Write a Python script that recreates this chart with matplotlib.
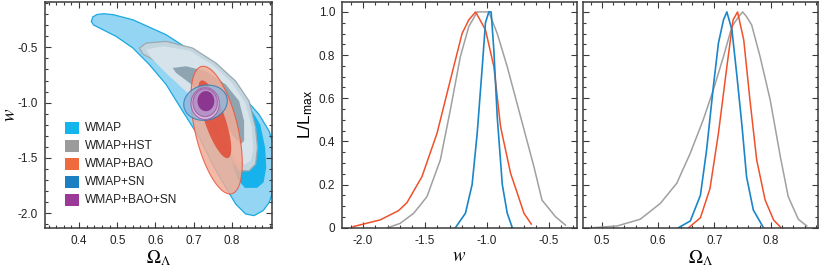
import numpy as np
import matplotlib
matplotlib.use("Agg")
import matplotlib.pyplot as plt
from matplotlib.ticker import MultipleLocator, FixedLocator, FuncFormatter
from matplotlib.patches import Polygon, Rectangle

plt.rcParams['font.family'] = ['Liberation Sans', 'DejaVu Sans']
plt.rcParams['mathtext.fontset'] = 'stix'

# ---------------- data: panel 1 contours (Omega_Lambda, w) ----------------
wmap95_om = [0.432, 0.436, 0.447, 0.465, 0.49, 0.541, 0.628, 0.715, 0.802, 0.871, 0.898, 0.91, 0.91,
             0.898, 0.882, 0.858, 0.836, 0.81, 0.784, 0.749, 0.715, 0.671, 0.628, 0.584, 0.541,
             0.497, 0.454, 0.438]
wmap95_w = [-0.266, -0.225, -0.203, -0.196, -0.205, -0.251, -0.386, -0.581, -0.836, -1.106, -1.26,
            -1.40, -1.77, -1.90, -1.975, -2.021, -2.006, -1.916, -1.766, -1.556, -1.316, -1.076,
            -0.836, -0.656, -0.506, -0.401, -0.326, -0.298]
wmap68_om = [0.84, 0.874, 0.887, 0.89, 0.883, 0.866, 0.834, 0.817, 0.805, 0.80, 0.80]
wmap68_w = [-1.0, -1.196, -1.406, -1.586, -1.72, -1.77, -1.77, -1.70, -1.60, -1.45, -1.2]
hst95_om = [0.558, 0.576, 0.628, 0.697, 0.758, 0.81, 0.845, 0.862, 0.867, 0.862, 0.845, 0.819,
            0.802, 0.775, 0.741, 0.697, 0.654, 0.602, 0.567]
hst95_w = [-0.506, -0.461, -0.446, -0.506, -0.641, -0.806, -0.986, -1.226, -1.406, -1.556, -1.616, -1.616,
           -1.526, -1.346, -1.136, -0.926, -0.761, -0.626, -0.56]
hstcore_om = [0.575, 0.62, 0.69, 0.75, 0.80, 0.835, 0.852, 0.856, 0.85, 0.835, 0.815, 0.79, 0.76,
              0.72, 0.68, 0.63, 0.59]
hstcore_w = [-0.52, -0.49, -0.53, -0.66, -0.82, -1.0, -1.22, -1.42, -1.52, -1.56, -1.53, -1.40, -1.23,
             -1.05, -0.90, -0.74, -0.60]
hst68_om = [0.645, 0.68, 0.732, 0.784, 0.819, 0.832, 0.832, 0.823, 0.80, 0.775, 0.732, 0.689, 0.654]
hst68_w = [-0.686, -0.671, -0.716, -0.836, -0.986, -1.166, -1.346, -1.376, -1.286, -1.136, -0.956,
           -0.821, -0.731]

# ellipses: center om, center w, semi-major, semi-minor (units: 0.1 in om, 0.35 in w), angle (deg)
ell_names = ['bao95', 'bao68', 'sn95', 'all95', 'sn68', 'all68']
ell_om = [0.760, 0.755, 0.731, 0.730, 0.730, 0.732]
ell_w = [-1.248, -1.15, -1.0, -1.008, -1.0, -0.986]
ell_a = [1.69, 1.06, 0.575, 0.37, 0.32, 0.22]
ell_b = [0.56, 0.27, 0.45, 0.41, 0.36, 0.26]
ell_ang = [-76.5, -70.7, 12.0, 0.0, 0.0, 0.0]

legend_labels = ['WMAP', 'WMAP+HST', 'WMAP+BAO', 'WMAP+SN', 'WMAP+BAO+SN']
legend_colors = ['#14b4ec', '#9b9b9b', '#ef6a3c', '#1a80c2', '#9a3a96']

# ---------------- data: panel 2, marginal in w ----------------
w_red_x = [-2.08, -1.862, -1.713, -1.645, -1.524, -1.402, -1.267, -1.199, -1.145, -1.09,
           -1.01, -0.942, -0.888, -0.807, -0.752, -0.699, -0.64]
w_red_y = [0.005, 0.036, 0.079, 0.116, 0.236, 0.437, 0.746, 0.90, 0.963, 1.0,
           0.917, 0.746, 0.468, 0.252, 0.159, 0.067, 0.017]
w_gray_x = [-1.80, -1.70, -1.59, -1.483, -1.375, -1.294, -1.213, -1.145, -1.077, -0.983,
            -0.915, -0.834, -0.726, -0.618, -0.553, -0.444, -0.363]
w_gray_y = [0.0, 0.02, 0.067, 0.144, 0.314, 0.546, 0.793, 0.932, 1.0, 1.0,
            0.90, 0.746, 0.514, 0.282, 0.128, 0.051, 0.012]
w_blue_x = [-1.253, -1.172, -1.118, -1.077, -1.036, -1.01, -0.983, -0.964, -0.942, -0.915,
            -0.874, -0.834, -0.793]
w_blue_y = [0.0, 0.067, 0.20, 0.437, 0.746, 0.95, 1.0, 1.0, 0.82, 0.514, 0.20, 0.067, 0.0]

# ---------------- data: panel 3, marginal in Omega_Lambda ----------------
o_gray_x = [0.485, 0.527, 0.568, 0.604, 0.633, 0.657, 0.680, 0.698, 0.716, 0.731, 0.743, 0.75,
            0.757, 0.766, 0.781, 0.799, 0.817, 0.831, 0.849, 0.864]
o_gray_y = [0.0, 0.008, 0.039, 0.113, 0.206, 0.345, 0.5, 0.639, 0.793, 0.932, 0.978, 1.0,
            0.978, 0.94, 0.793, 0.592, 0.329, 0.144, 0.039, 0.008]
o_blue_x = [0.636, 0.657, 0.675, 0.686, 0.698, 0.707, 0.716, 0.722, 0.731, 0.740, 0.749, 0.757,
            0.769, 0.787]
o_blue_y = [0.0, 0.031, 0.15, 0.36, 0.654, 0.855, 0.963, 1.0, 0.917, 0.7, 0.468, 0.236, 0.082, 0.0]
o_red_x = [0.654, 0.675, 0.692, 0.707, 0.722, 0.733, 0.741, 0.752, 0.763, 0.775, 0.79, 0.805, 0.817]
o_red_y = [0.0, 0.046, 0.181, 0.437, 0.746, 0.963, 1.0, 0.87, 0.592, 0.314, 0.128, 0.036, 0.003]

# ---------------- figure ----------------
W, H = 819, 268
fig = plt.figure(figsize=(W / 100, H / 100), dpi=100)

def ax_at(x0, x1, y0, y1):
    return fig.add_axes([x0 / W, 1 - y1 / H, (x1 - x0) / W, (y1 - y0) / H])

ax1 = ax_at(44.7, 272.0, 2.0, 227.7)
ax2 = ax_at(342.0, 577.0, 2.0, 227.7)
ax3 = ax_at(583.3, 817.5, 2.0, 227.7)

spine_col = '#3a3a3a'
for ax in (ax1, ax2, ax3):
    for s in ax.spines.values():
        s.set_color(spine_col)
        s.set_linewidth(1.1)
    ax.tick_params(which='both', direction='in', top=True, right=True, color=spine_col,
                   labelsize=8.5, labelcolor='#222222', width=0.8)
    ax.tick_params(which='major', length=4, pad=5)
    ax.tick_params(which='minor', length=2)

# panel 1
ax1.set_xlim(0.31, 0.905)
ax1.set_ylim(-2.13, -0.09)

def ell_pts(cx, cy, a, b, ang, n=120):
    t = np.linspace(0, 2 * np.pi, n)
    th = np.deg2rad(ang)
    u = a * np.cos(t)
    v = b * np.sin(t)
    xs = u * np.cos(th) - v * np.sin(th)
    ys = u * np.sin(th) + v * np.cos(th)
    return np.column_stack([cx + xs * 0.1, cy + ys * 0.35])

def poly(ax, xs, ys, fc, ec, lw=0.8, alpha=1.0, z=1):
    p = Polygon(np.column_stack([xs, ys]), closed=True, facecolor=fc, edgecolor=ec,
                linewidth=lw, alpha=alpha, zorder=z, joinstyle='round')
    ax.add_patch(p)

poly(ax1, wmap95_om, wmap95_w, '#93d5f3', '#1aa8e0', lw=0.9, z=1)
poly(ax1, wmap68_om, wmap68_w, '#16b2ec', 'none', lw=0, z=1.1)
poly(ax1, hst95_om, hst95_w, '#c3d5df', '#9aa9b2', lw=0.9, z=2)
poly(ax1, hstcore_om, hstcore_w, '#d6e3ea', 'none', lw=0, z=2.05)
poly(ax1, hst68_om, hst68_w, '#8ea4b1', 'none', lw=0, z=2.1)

ell_style = {
    'bao95': ('#f0ad98', '#e8573c', 0.85, 3),
    'bao68': ('#e0503c', 'none', 0.9, 3.1),
    'sn95': ('#8fb6dc', '#2f78b8', 0.8, 4),
    'all95': ('#dcc0e2', '#a062a8', 0.95, 5),
    'sn68': ('#b590c6', '#a062a8', 0.95, 5.05),
    'all68': ('#8b3790', 'none', 1.0, 5.1),
}
for i, name in enumerate(ell_names):
    fc, ec, al, z = ell_style[name]
    pts = ell_pts(ell_om[i], ell_w[i], ell_a[i], ell_b[i], ell_ang[i])
    ax1.add_patch(Polygon(pts, closed=True, facecolor=fc, edgecolor=ec, linewidth=0.8,
                          alpha=al, zorder=z))

ax1.xaxis.set_major_locator(FixedLocator([0.4, 0.5, 0.6, 0.7, 0.8]))
ax1.xaxis.set_minor_locator(MultipleLocator(0.02))
ax1.yaxis.set_major_locator(FixedLocator([-2.0, -1.5, -1.0, -0.5]))
ax1.yaxis.set_minor_locator(MultipleLocator(0.1))
ax1.xaxis.set_major_formatter(FuncFormatter(lambda v, p: f'{v:.1f}'))
ax1.yaxis.set_major_formatter(FuncFormatter(lambda v, p: f'{v:.1f}'))
ax1.set_xlabel(r'$\Omega_\Lambda$', fontsize=13.5, labelpad=1)
ax1.set_ylabel(r'$w$', fontsize=13.5)
ax1.yaxis.set_label_coords(-0.115, 0.5)

# legend
for i, (lab, col) in enumerate(zip(legend_labels, legend_colors)):
    yy = 0.442 - i * 0.0797
    ax1.add_patch(Rectangle((0.09, yy - 0.028), 0.06, 0.056, transform=ax1.transAxes,
                            facecolor=col, edgecolor='none', zorder=10))
    ax1.text(0.178, yy, lab, transform=ax1.transAxes, fontsize=8.6, va='center', ha='left',
             color='#222222', zorder=10)

# panel 2
ax2.plot(w_gray_x, w_gray_y, color='#a0a0a0', lw=1.1)
ax2.plot(w_red_x, w_red_y, color='#f0502a', lw=1.1)
ax2.plot(w_blue_x, w_blue_y, color='#1a86c8', lw=1.2)
ax2.set_xlim(-2.17, -0.27)
ax2.set_ylim(0, 1.046)
ax2.xaxis.set_major_locator(FixedLocator([-2.0, -1.5, -1.0, -0.5]))
ax2.xaxis.set_minor_locator(MultipleLocator(0.1))
ax2.yaxis.set_major_locator(FixedLocator([0, 0.2, 0.4, 0.6, 0.8, 1.0]))
ax2.yaxis.set_minor_locator(MultipleLocator(0.05))
ax2.xaxis.set_major_formatter(FuncFormatter(lambda v, p: f'{v:.1f}'))
ax2.yaxis.set_major_formatter(FuncFormatter(lambda v, p: '0' if abs(v) < 1e-9 else f'{v:.1f}'))
ax2.set_xlabel(r'$w$', fontsize=13.5, labelpad=1)
ax2.set_ylabel(r'L/L$_\mathregular{max}$', fontsize=12.5)
ax2.yaxis.set_label_coords(-0.115, 0.5)

# panel 3
ax3.plot(o_gray_x, o_gray_y, color='#a0a0a0', lw=1.1)
ax3.plot(o_red_x, o_red_y, color='#f0502a', lw=1.1)
ax3.plot(o_blue_x, o_blue_y, color='#1a86c8', lw=1.2)
ax3.set_xlim(0.467, 0.883)
ax3.set_ylim(0, 1.046)
ax3.xaxis.set_major_locator(FixedLocator([0.5, 0.6, 0.7, 0.8]))
ax3.xaxis.set_minor_locator(MultipleLocator(0.02))
ax3.yaxis.set_major_locator(FixedLocator([0, 0.2, 0.4, 0.6, 0.8, 1.0]))
ax3.yaxis.set_minor_locator(MultipleLocator(0.05))
ax3.xaxis.set_major_formatter(FuncFormatter(lambda v, p: f'{v:.1f}'))
ax3.set_yticklabels([])
ax3.set_xlabel(r'$\Omega_\Lambda$', fontsize=13.5, labelpad=1)

fig.savefig('out.png', dpi=100)
